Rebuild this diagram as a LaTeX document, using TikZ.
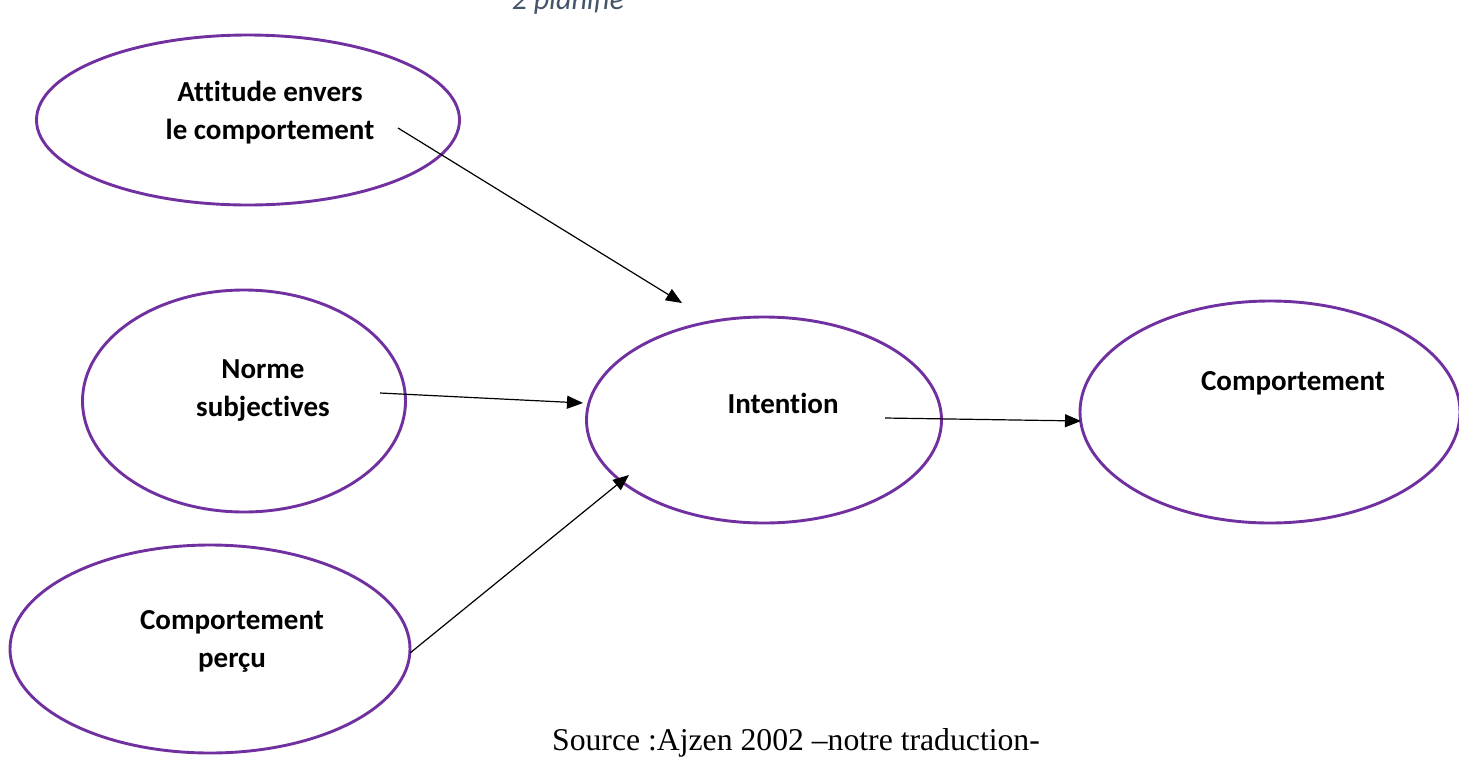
\documentclass[tikz,border=0pt]{standalone}
\usepackage{fontspec}
\setmainfont{Liberation Serif}
\newfontfamily\calib[Ligatures=NoCommon]{Carlito}
\usetikzlibrary{shapes.geometric,arrows.meta}
\definecolor{elcol}{RGB}{112,48,160}
\definecolor{captcol}{RGB}{68,84,106}
\tikzset{
  oval/.style={ellipse,draw=elcol,line width=2.9pt,inner sep=0pt},
  lab/.style={font=\calib\bfseries\fontsize{29}{38}\selectfont,align=center,text=black},
  conn/.style={draw=black,line width=1.2pt,-{Triangle[length=16pt,width=13pt]}}
}
\begin{document}
\begin{tikzpicture}[x=1pt,y=-1pt]
\useasboundingbox (0,0) rectangle (1459,756);
% ellipses
\node[oval,minimum width=423pt,minimum height=170pt] (att) at (248,120) {};
\node[oval,minimum width=323pt,minimum height=222pt] (nor) at (244,401) {};
\node[oval,minimum width=400pt,minimum height=208pt] (per) at (210,649) {};
\node[oval,minimum width=355pt,minimum height=206pt] (int) at (764,420) {};
\node[oval,minimum width=380pt,minimum height=222pt] (com) at (1270,412) {};
% labels
\node[lab] (tatt) at (270,113) {Attitude envers\\le comportement};
\node[lab] (tnor) at (263,391) {Norme\\subjectives};
\node[lab] (tper) at (232,641) {Comportement\\perçu};
\node[lab] (tint) at (783,403) {Intention};
\node[lab] (tcom) at (1293,383) {Comportement};
% caption
\node[font=\calib\itshape\fontsize{30}{36}\selectfont,text=captcol,anchor=base] (cap) at (568,9) {2 planifie};
\node[font=\fontsize{31.7}{36}\selectfont,anchor=base] (src) at (796,750) {Source :Ajzen 2002 –notre traduction-};
% connector endpoints
\coordinate (a1) at (398,128);
\coordinate (a2) at (682,303);
\coordinate (b1) at (380,393);
\coordinate (b2) at (583,403);
\coordinate (c1) at (410,653);
\coordinate (c2) at (629,475);
\coordinate (d1) at (885,418);
\coordinate (d2) at (1081,421);
\draw[conn] (a1) -- (a2);
\draw[conn] (b1) -- (b2);
\draw[conn] (c1) -- (c2);
\draw[conn] (d1) -- (d2);
\end{tikzpicture}
\end{document}
